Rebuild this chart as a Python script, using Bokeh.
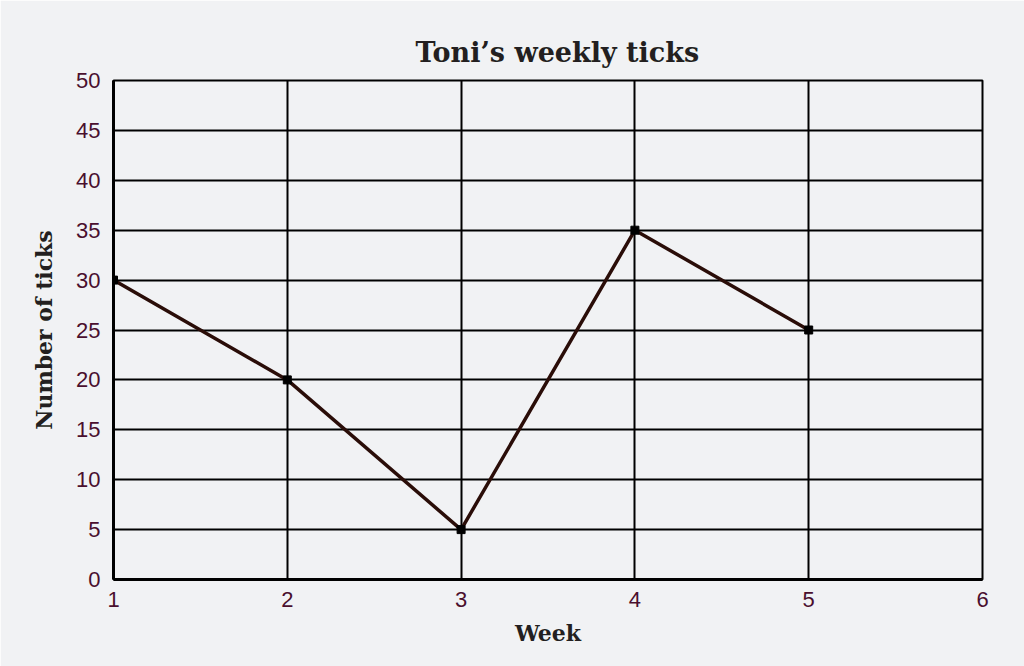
from bokeh.plotting import figure
from bokeh.models import FixedTicker, Range1d
from bokeh.embed import file_html
from bokeh.resources import INLINE

weeks = [1, 2, 3, 4, 5]
ticks_count = [30, 20, 5, 35, 25]
x_ticks = [1, 2, 3, 4, 5, 6]
y_ticks = [0, 5, 10, 15, 20, 25, 30, 35, 40, 45, 50]

BG = "#f1f2f4"
LABEL_COLOR = "#4a0f2e"
SERIF = "DejaVu Serif"

p = figure(width=1024, height=666, output_backend="svg", toolbar_location=None,
           x_range=Range1d(1, 6), y_range=Range1d(0, 50),
           title="Toni\u2019s weekly ticks",
           min_border_left=113, min_border_right=42, min_border_top=80, min_border_bottom=87)
p.background_fill_color = BG
p.border_fill_color = BG
p.outline_line_color = "black"
p.outline_line_width = 2

p.title.align = "left"
p.title.text_font = SERIF
p.title.text_font_style = "bold"
p.title.text_font_size = "27px"
p.title.text_color = "#231f20"
p.title.standoff = 26
p.title.offset = 302

p.xaxis.ticker = FixedTicker(ticks=x_ticks)
p.yaxis.ticker = FixedTicker(ticks=y_ticks)
for ax in (p.xaxis, p.yaxis):
    ax.axis_line_width = 3
    ax.axis_line_color = "black"
    ax.major_tick_out = 0
    ax.major_tick_in = 0
    ax.minor_tick_out = 0
    ax.minor_tick_in = 0
    ax.major_label_text_font = "Liberation Sans"
    ax.major_label_text_font_size = "22px"
    ax.major_label_text_color = LABEL_COLOR
    ax.axis_label_text_font = SERIF
    ax.axis_label_text_font_style = "bold"
    ax.axis_label_text_font_size = "22px"
    ax.axis_label_text_color = "#231f20"
p.xaxis.major_label_standoff = 12
p.yaxis.major_label_standoff = 13
p.xaxis.axis_label = "Week"
p.yaxis.axis_label = "Number of ticks"
p.xaxis.axis_label_standoff = 10
p.yaxis.axis_label_standoff = 16

p.xgrid.ticker = FixedTicker(ticks=x_ticks)
p.ygrid.ticker = FixedTicker(ticks=y_ticks)
for g in (p.xgrid, p.ygrid):
    g.grid_line_color = "black"
    g.grid_line_width = 2
    g.grid_line_alpha = 1

p.line(weeks, ticks_count, line_color="#2a0d08", line_width=3.5)
p.scatter(weeks, ticks_count, marker="square", size=8, fill_color="black", line_color="black")

html = file_html(p, INLINE)
html = html.replace("<body>", '<body style="margin:0;background:%s">' % BG, 1)
open("out.html", "w").write(html)
